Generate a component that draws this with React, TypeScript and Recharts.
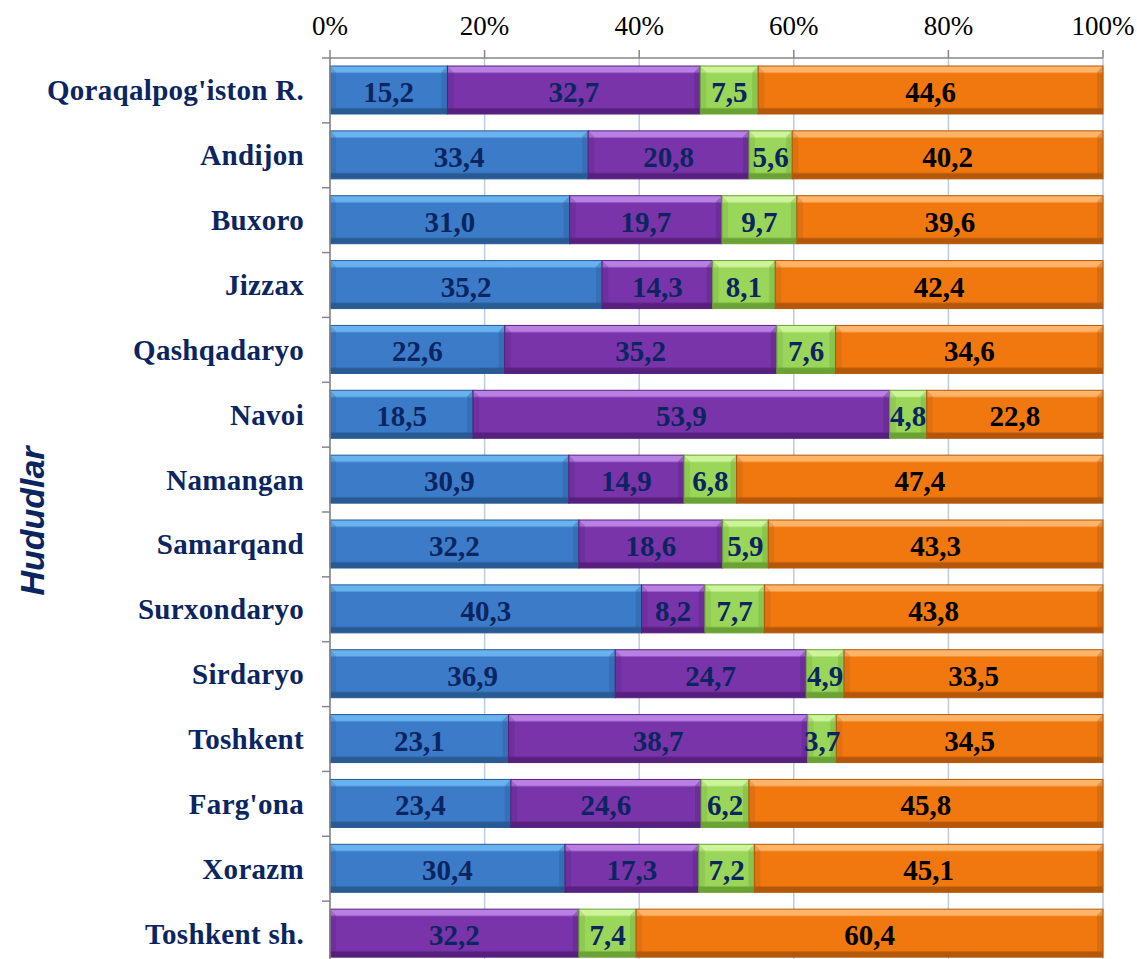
import { BarChart, Bar, XAxis, YAxis, CartesianGrid, LabelList } from "recharts";

const regions = [
  "Qoraqalpog'iston R.",
  "Andijon",
  "Buxoro",
  "Jizzax",
  "Qashqadaryo",
  "Navoi",
  "Namangan",
  "Samarqand",
  "Surxondaryo",
  "Sirdaryo",
  "Toshkent",
  "Farg'ona",
  "Xorazm",
  "Toshkent sh.",
];

const blueValues = [15.2, 33.4, 31.0, 35.2, 22.6, 18.5, 30.9, 32.2, 40.3, 36.9, 23.1, 23.4, 30.4, 0];
const purpleValues = [32.7, 20.8, 19.7, 14.3, 35.2, 53.9, 14.9, 18.6, 8.2, 24.7, 38.7, 24.6, 17.3, 32.2];
const greenValues = [7.5, 5.6, 9.7, 8.1, 7.6, 4.8, 6.8, 5.9, 7.7, 4.9, 3.7, 6.2, 7.2, 7.4];
const orangeValues = [44.6, 40.2, 39.6, 42.4, 34.6, 22.8, 47.4, 43.3, 43.8, 33.5, 34.5, 45.8, 45.1, 60.4];

const xTicks = [0, 20, 40, 60, 80, 100];

const data = regions.map((name, i) => ({
  name,
  blue: blueValues[i],
  purple: purpleValues[i],
  green: greenValues[i],
  orange: orangeValues[i],
}));

const W = 1137;
const H = 975;
const M = { top: 0, right: 34, bottom: 9, left: 0 };
const X_AXIS_H = 58;
const Y_AXIS_W = 330;
const BAND = (H - M.top - M.bottom - X_AXIS_H) / regions.length;

const serif = "'Liberation Serif', 'Times New Roman', serif";
const navy = "#0b2560";

const series = [
  { key: "blue", light: "#68b2f0", main: "#3c7bc8", dark: "#285a94", label: navy },
  { key: "purple", light: "#b880e2", main: "#7834a8", dark: "#57207e", label: navy },
  { key: "green", light: "#cdf49a", main: "#9ad65a", dark: "#6aa234", label: navy },
  { key: "orange", light: "#ffb468", main: "#f0780f", dark: "#b5570a", label: "#000000" },
];

const fmt = (v: number) => v.toFixed(1).replace(".", ",");

function makeShape(s: (typeof series)[number]) {
  return (props: any) => {
    const { x, y, width, height } = props;
    if (!width || width <= 0) return null;
    const id = `grad-${s.key}`;
    const bev = Math.min(6, width / 2);
    return (
      <g>
        <defs>
          <linearGradient id={id} x1="0" y1="0" x2="0" y2="1">
            <stop offset="0" stopColor={s.light} />
            <stop offset="0.12" stopColor={s.light} />
            <stop offset="0.16" stopColor={s.main} />
            <stop offset="0.86" stopColor={s.main} />
            <stop offset="0.9" stopColor={s.dark} />
            <stop offset="1" stopColor={s.dark} />
          </linearGradient>
        </defs>
        <rect x={x} y={y} width={width} height={height} fill={`url(#${id})`} stroke={s.dark} strokeWidth={1} />
        <polygon
          points={`${x},${y} ${x + bev},${y + bev} ${x + bev},${y + height - bev} ${x},${y + height}`}
          fill={s.dark}
          opacity={0.25}
        />
        <polygon
          points={`${x + width},${y} ${x + width - bev},${y + bev} ${x + width - bev},${y + height - bev} ${x + width},${y + height}`}
          fill={s.dark}
          opacity={0.35}
        />
      </g>
    );
  };
}

function makeLabel(color: string) {
  return (props: any) => {
    const { x, y, width, height, value } = props;
    if (!value) return null;
    return (
      <text
        x={x + width / 2}
        y={y + height / 2}
        dy={2}
        textAnchor="middle"
        dominantBaseline="central"
        fill={color}
        fontFamily={serif}
        fontWeight="bold"
        fontSize={29}
      >
        {fmt(value)}
      </text>
    );
  };
}

function PercentTick(props: any) {
  const { x, y, payload } = props;
  return (
    <text x={x} y={y} textAnchor="middle" fill="#000" fontFamily={serif} fontSize={27}>
      {`${payload.value}%`}
    </text>
  );
}

function RegionTick(props: any) {
  const { x, y, payload } = props;
  const axisX = M.left + Y_AXIS_W;
  return (
    <g>
      <line x1={axisX - 8} x2={axisX} y1={y - BAND / 2} y2={y - BAND / 2} stroke="#868686" strokeWidth={1.5} />
      <text
        x={x}
        y={y}
        textAnchor="end"
        dominantBaseline="central"
        fill={navy}
        fontFamily={serif}
        fontWeight="bold"
        fontSize={29}
        letterSpacing={0.3}
      >
        {payload.value}
      </text>
    </g>
  );
}

function AxisTitle(props: any) {
  const vb = props.viewBox || { x: 0, y: 0, height: 0 };
  const cx = 32;
  const cy = vb.y + vb.height / 2 + 9;
  return (
    <text
      x={cx}
      y={cy}
      transform={`rotate(-90 ${cx} ${cy})`}
      textAnchor="middle"
      dominantBaseline="central"
      fill={navy}
      fontFamily="'Liberation Sans', Arial, sans-serif"
      fontWeight="bold"
      fontStyle="italic"
      fontSize={34}
    >
      Hududlar
    </text>
  );
}

export default function App() {
  return (
    <div style={{ position: "absolute", left: 0, top: 0, width: W, height: 959, overflow: "hidden", background: "#fff" }}>
      <BarChart width={W} height={H} data={data} layout="vertical" margin={M} barSize={48}>
        <CartesianGrid vertical horizontal={false} stroke="#b9cbe6" strokeWidth={1.5} />
        <XAxis
          type="number"
          orientation="top"
          domain={[0, 100]}
          ticks={xTicks}
          height={X_AXIS_H}
          tickSize={8}
          tickMargin={0}
          stroke="#868686"
          strokeWidth={1.5}
          tick={(p: any) => <PercentTick {...p} y={35} />}
          interval={0}
        />
        <YAxis
          type="category"
          dataKey="name"
          width={Y_AXIS_W}
          tickSize={8}
          tickMargin={18}
          tickLine={false}
          stroke="#868686"
          strokeWidth={1.5}
          tick={<RegionTick />}
          interval={0}
          label={{ content: <AxisTitle /> }}
        />
        {series.map((s) => (
          <Bar key={s.key} dataKey={s.key} stackId="a" fill={s.main} shape={makeShape(s)} isAnimationActive={false}>
            <LabelList dataKey={s.key} content={makeLabel(s.label)} />
          </Bar>
        ))}
      </BarChart>
    </div>
  );
}
